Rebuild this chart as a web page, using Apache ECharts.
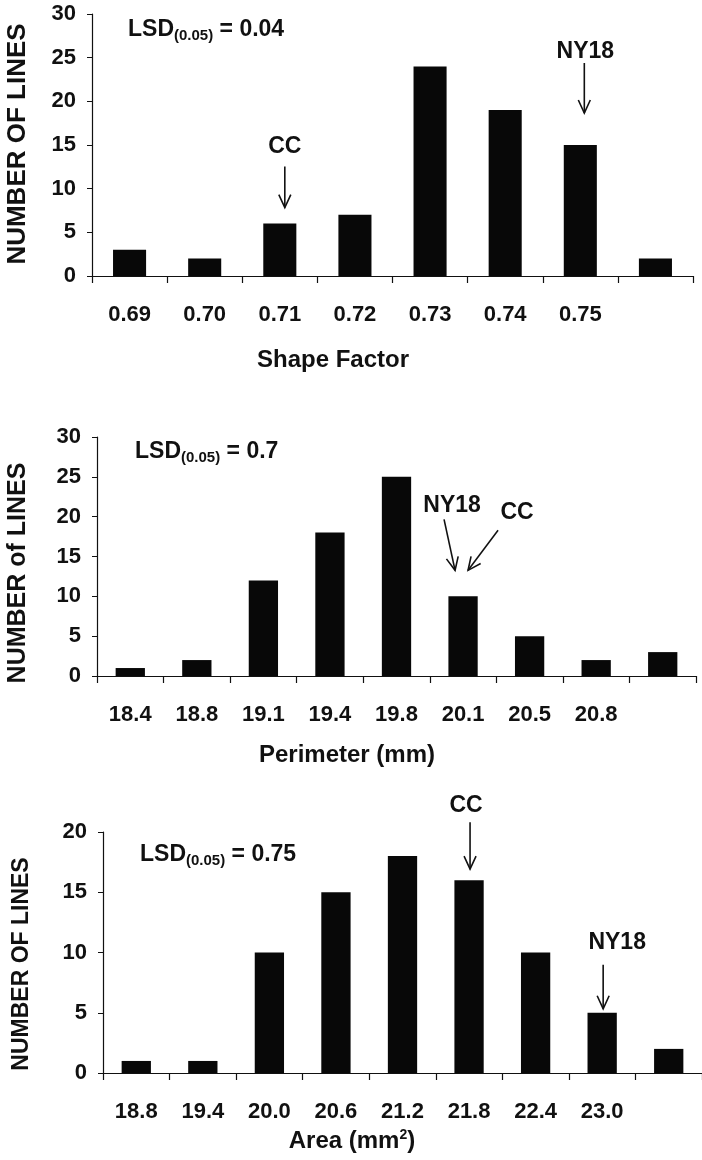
<!DOCTYPE html>
<html>
<head>
<meta charset="utf-8">
<script src="https://cdn.jsdelivr.net/npm/echarts@6/dist/echarts.min.js"></script>
<style>
html, body { margin: 0; padding: 0; background: #fff; }
#chart { width: 702px; height: 1160px; }
</style>
</head>
<body>
<div id="chart"></div>
<script>
// shape factor panel
const shapeCats = ['0.69', '0.70', '0.71', '0.72', '0.73', '0.74', '0.75', '']
const shapeCounts = [3, 2, 6, 7, 24, 19, 15, 2]
// perimeter panel
const perimCats = ['18.4', '18.8', '19.1', '19.4', '19.8', '20.1', '20.5', '20.8', '']
const perimCounts = [1, 2, 12, 18, 25, 10, 5, 2, 3]
// area panel
const areaCats = ['18.8', '19.4', '20.0', '20.6', '21.2', '21.8', '22.4', '23.0', '']
const areaCounts = [1, 1, 10, 15, 18, 16, 10, 5, 2]

const yMaxes = [30, 30, 20]
const yStep = 5
const lsdTexts = ['0.04', '0.7', '0.75']

const FONT = '"Liberation Sans", Arial, sans-serif'
const INK = '#111'

const panels = [
  { cats: shapeCats, counts: shapeCounts, grid: { left: 92, top: 14, width: 601, height: 262 } },
  { cats: perimCats, counts: perimCounts, grid: { left: 97, top: 437, width: 599, height: 239 } },
  { cats: areaCats, counts: areaCounts, grid: { left: 103, top: 832, width: 603, height: 241 } }
]

const chart = echarts.init(document.getElementById('chart'))

chart.setOption({
  animation: false,
  grid: panels.map(p => p.grid),
  xAxis: panels.map((p, i) => ({
    type: 'category', gridIndex: i, data: p.cats,
    axisLine: { lineStyle: { color: INK, width: 1.2 } },
    axisTick: { show: true, length: 7, lineStyle: { color: INK, width: 1.2 } },
    axisLabel: { margin: 28, color: INK, fontSize: 22, fontWeight: 'bold', fontFamily: FONT, interval: 0 },
    splitLine: { show: false }
  })),
  yAxis: panels.map((p, i) => ({
    type: 'value', gridIndex: i, min: 0, max: yMaxes[i], interval: yStep,
    axisLine: { show: true, lineStyle: { color: INK, width: 1.2 } },
    axisTick: { show: true, length: 5, lineStyle: { color: INK, width: 1 } },
    axisLabel: { margin: 16, color: INK, fontSize: 22, fontWeight: 'bold', fontFamily: FONT },
    splitLine: { show: false }
  })),
  series: panels.map((p, i) => ({
    type: 'bar', xAxisIndex: i, yAxisIndex: i,
    data: p.counts, barWidth: '44%',
    itemStyle: { color: '#080808' }
  }))
})

// arrows and names, placed relative to the top of the bar they point to
const notes = [
  { panel: 0, cat: 2, text: 'CC', label: [5, -77], tail: [5, -57], tip: [5, -16] },
  { panel: 0, cat: 6, text: 'NY18', label: [5, -93], tail: [4, -82], tip: [4, -32] },
  { panel: 1, cat: 5, text: 'NY18', label: [-11, -91], tail: [-19, -77], tip: [-8, -26] },
  { panel: 1, cat: 5, text: 'CC', label: [54, -84], tail: [35, -66], tip: [5, -26] },
  { panel: 2, cat: 5, text: 'CC', label: [-3, -75], tail: [1, -58], tip: [1, -11] },
  { panel: 2, cat: 7, text: 'NY18', label: [15, -70], tail: [1, -48], tip: [1, -4] }
]

function txt(text, x, y, size, opts) {
  return Object.assign({
    type: 'text', x: x, y: y,
    style: {
      text: text, fill: INK, fontSize: size, fontWeight: 'bold', fontFamily: FONT,
      align: 'center', verticalAlign: 'middle', textAlign: 'center', textVerticalAlign: 'middle'
    }
  }, opts || {})
}

const graphics = []
notes.forEach(n => {
  const p = panels[n.panel]
  const top = chart.convertToPixel({ xAxisIndex: n.panel, yAxisIndex: n.panel }, [n.cat, p.counts[n.cat]])
  const tail = [top[0] + n.tail[0], top[1] + n.tail[1]]
  const tip = [top[0] + n.tip[0], top[1] + n.tip[1]]
  const dx = tip[0] - tail[0], dy = tip[1] - tail[1]
  const len = Math.sqrt(dx * dx + dy * dy)
  const ux = dx / len, uy = dy / len
  const head = 13, half = 6
  graphics.push({ type: 'line', shape: { x1: tail[0], y1: tail[1], x2: tip[0], y2: tip[1] }, style: { stroke: INK, lineWidth: 1.6 } })
  graphics.push({
    type: 'polyline',
    shape: { points: [
      [tip[0] - ux * head - uy * half, tip[1] - uy * head + ux * half],
      tip,
      [tip[0] - ux * head + uy * half, tip[1] - uy * head - ux * half]
    ] },
    style: { stroke: INK, lineWidth: 1.6, fill: null }
  })
  graphics.push(txt(n.text, top[0] + n.label[0], top[1] + n.label[1], 23))
})

// LSD boxes
const lsdPos = [[128, 30], [135, 452], [140, 855]]
lsdPos.forEach((pos, i) => {
  graphics.push({
    type: 'text', x: pos[0], y: pos[1],
    style: {
      text: '{a|LSD}{b|(0.05)}{a| = ' + lsdTexts[i] + '}',
      align: 'left', verticalAlign: 'middle', textAlign: 'left', textVerticalAlign: 'middle',
      rich: {
        a: { fontSize: 23, fontWeight: 'bold', fontFamily: FONT, fill: INK, color: INK },
        b: { fontSize: 15, fontWeight: 'bold', fontFamily: FONT, fill: INK, color: INK, padding: [12, 0, 0, 0] }
      }
    }
  })
})

// axis names
graphics.push(txt('Shape Factor', 333, 360, 24))
graphics.push(txt('Perimeter (mm)', 347, 755, 24))
graphics.push({
  type: 'text', x: 352, y: 1141,
  style: {
    text: '{a|Area (mm}{s|2}{a|)}',
    align: 'center', verticalAlign: 'middle', textAlign: 'center', textVerticalAlign: 'middle',
    rich: {
      a: { fontSize: 24, fontWeight: 'bold', fontFamily: FONT, fill: INK, color: INK },
      s: { fontSize: 14, fontWeight: 'bold', fontFamily: FONT, fill: INK, color: INK, padding: [0, 0, 12, 0] }
    }
  }
})
graphics.push(txt('NUMBER OF LINES', 18, 144, 26, { rotation: Math.PI / 2 }))
graphics.push(txt('NUMBER of LINES', 18, 573, 25, { rotation: Math.PI / 2 }))
graphics.push(txt('NUMBER OF LINES', 22, 964, 23, { rotation: Math.PI / 2 }))

chart.setOption({ graphic: { elements: graphics } })
</script>
</body>
</html>
